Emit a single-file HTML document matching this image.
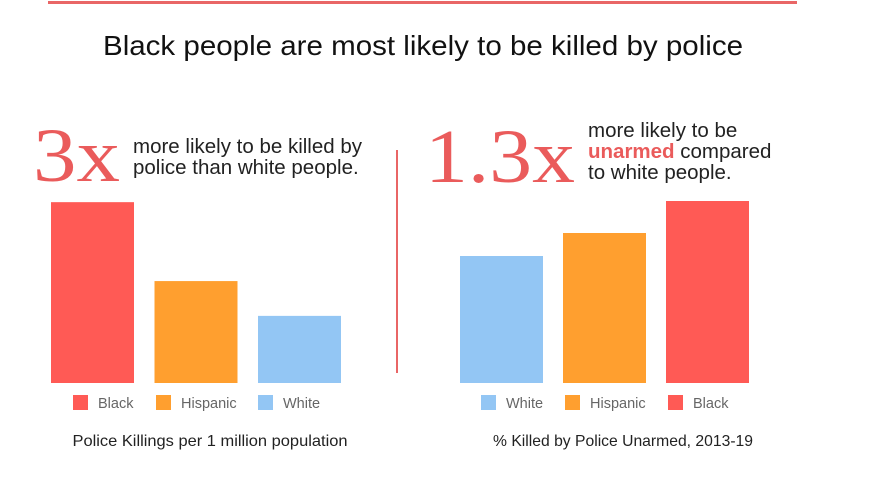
<!DOCTYPE html>
<html><head><meta charset="utf-8"><style>
body{margin:0;background:#fff;}
svg{display:block;font-family:"Liberation Sans",sans-serif;}
</style></head><body>
<svg id="c" width="884" height="501" viewBox="0 0 884 501" xmlns="http://www.w3.org/2000/svg">
<rect x="48" y="1" width="749" height="3" fill="#e96666"/>
<text x="423" y="55" text-anchor="middle" font-size="27.5" textLength="640" lengthAdjust="spacingAndGlyphs" fill="#111">Black people are most likely to be killed by police</text>
<text x="33" y="181" font-family="Liberation Serif, serif" font-size="76" textLength="87" lengthAdjust="spacingAndGlyphs" fill="#ea5b5b">3x</text>
<text x="133" y="153" font-size="20.5" fill="#222"><tspan x="133">more likely to be killed by</tspan><tspan x="133" y="174">police than white people.</tspan></text>
<text x="425" y="182" font-family="Liberation Serif, serif" font-size="76" textLength="150" lengthAdjust="spacingAndGlyphs" fill="#ea5b5b">1.3x</text>
<text x="588" y="137" font-size="20.5" fill="#222"><tspan x="588">more likely to be</tspan><tspan x="588" y="158"><tspan font-weight="bold" fill="#ea5b5b">unarmed</tspan> compared</tspan><tspan x="588" y="179">to white people.</tspan></text>
<rect x="396" y="150" width="2" height="223" fill="#e96666"/>
<g id="left"></g><g id="right"></g>
<text x="210" y="446" text-anchor="middle" font-size="16" textLength="275" lengthAdjust="spacingAndGlyphs" fill="#222">Police Killings per 1 million population</text>
<text x="623" y="446" text-anchor="middle" font-size="16" textLength="260" lengthAdjust="spacingAndGlyphs" fill="#222">% Killed by Police Unarmed, 2013-19</text>
</svg>
<script>
const leftCats=["Black","Hispanic","White"];
const leftVals=[6.6,3.72,2.45];
const rightCats=["White","Hispanic","Black"];
const rightVals=[12.7,15.0,18.2];
const colors={Black:"#ff5a55",Hispanic:"#ff9f2f",White:"#93c6f4"};
const NS="http://www.w3.org/2000/svg";
function draw(gid,cats,vals,x0,step,scale,legX,prefix){
  const g=document.getElementById(gid);const base=383;
  cats.forEach((c,i)=>{
    const r=document.createElementNS(NS,"rect");
    const h=vals[i]*scale;
    r.setAttribute("x",x0+i*step);r.setAttribute("y",base-h);
    r.setAttribute("width",83);r.setAttribute("height",h);r.setAttribute("fill",colors[c]);
    
    
    g.appendChild(r);
    const s=document.createElementNS(NS,"rect");
    s.setAttribute("x",legX[i]);s.setAttribute("y",395);s.setAttribute("width",15);s.setAttribute("height",15);s.setAttribute("fill",colors[c]);
    
    
    g.appendChild(s);
    const t=document.createElementNS(NS,"text");
    t.setAttribute("x",legX[i]+25);t.setAttribute("y",408);t.setAttribute("font-size","14.5");t.setAttribute("fill","#666");
    t.textContent=c;
    
    
    g.appendChild(t);
  });
}
draw("left",leftCats,leftVals,51,103.5,27.4,[73,156,258],"left");
draw("right",rightCats,rightVals,460,103,10,[481,565,668],"right");
</script>
</body></html>
